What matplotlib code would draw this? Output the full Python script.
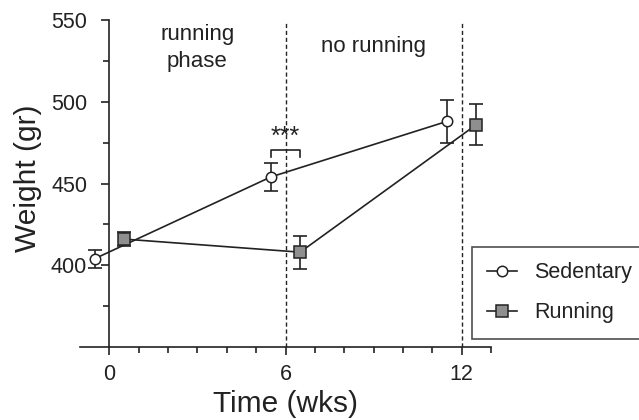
import matplotlib
matplotlib.use('Agg')
import matplotlib.pyplot as plt

plt.rcParams['font.family'] = ['Liberation Sans', 'DejaVu Sans']

# values (x offset +/-0.5 wk so the groups don't overlap)
weeks_sed = [-0.5, 5.5, 11.5]
sed_mean = [404, 454, 488]
sed_err = [5.5, 8.5, 13]

weeks_run = [0.5, 6.5, 12.5]
run_mean = [416, 408, 486]
run_err = [4.5, 10, 12.5]

phase_lines = [6, 12]
x_ticks = [0, 6, 12]
y_ticks = [400, 450, 500, 550]

dark = '#222222'

fig = plt.figure(figsize=(6.39, 4.2), dpi=100)
ax = fig.add_axes([80 / 639, 1 - 347 / 420, (491 - 80) / 639, (347 - 20) / 420])

# dashed phase boundaries
for xv in phase_lines:
    ax.plot([xv, xv], [350, 549], ls=(0, (3, 2)), color=dark, lw=1.0, zorder=1)

# series
ax.errorbar(weeks_sed, sed_mean, yerr=sed_err, fmt='none', ecolor=dark,
            elinewidth=1.2, capsize=5, capthick=1.2, zorder=2)
ax.errorbar(weeks_run, run_mean, yerr=run_err, fmt='none', ecolor=dark,
            elinewidth=1.2, capsize=5, capthick=1.2, zorder=2)
ax.plot(weeks_sed, sed_mean, '-o', color=dark, lw=1.2, ms=7.5,
        mfc='white', mec=dark, mew=1.1, label='Sedentary', zorder=3)
ax.plot(weeks_run, run_mean, '-s', color=dark, lw=1.2, ms=8.5,
        mfc='#8f8f8f', mec=dark, mew=1.1, label='Running', zorder=3)

# significance bracket between the two week-6 points
bx = [weeks_sed[1], weeks_run[1]]
ax.plot([bx[0], bx[0], bx[1], bx[1]], [466.5, 470.5, 470.5, 466.5], color=dark, lw=1.2)
ax.text(sum(bx) / 2, 471, '***', ha='center', va='bottom', fontsize=18, color=dark)

# phase annotations
ax.text(3, 533, 'running\nphase', ha='center', va='center', fontsize=16,
        color=dark, linespacing=1.35)
ax.text(9, 533.5, 'no running', ha='center', va='center', fontsize=16, color=dark)

# axes styling
ax.set_xlim(-1, 13)
ax.set_ylim(350, 550)
ax.spines['top'].set_visible(False)
ax.spines['right'].set_visible(False)
ax.spines['left'].set_position(('data', 0))
for s in ['left', 'bottom']:
    ax.spines[s].set_color(dark)
    ax.spines[s].set_linewidth(1.2)

ax.set_xticks(x_ticks)
ax.set_xticks([v for v in range(1, 14) if v not in x_ticks], minor=True)
ax.set_yticks(y_ticks)
ax.set_yticks([375, 425, 475, 525], minor=True)
ax.tick_params(which='major', direction='out', length=6, width=1.2,
               color=dark, labelcolor=dark, labelsize=15.5)
ax.tick_params(which='minor', direction='out', length=4, width=1.2, color=dark)
ax.tick_params(axis='y', which='major', pad=10)
ax.tick_params(axis='x', which='major', pad=6)

ax.set_xlabel('Time (wks)', fontsize=21.5, color=dark, labelpad=4)
ax.set_ylabel('Weight (gr)', fontsize=21.5, color=dark)
ax.yaxis.set_label_coords(42 / 639, 1 - 178 / 420, transform=fig.transFigure)

leg = ax.legend(loc='upper left', bbox_to_anchor=(472 / 639, 1 - 247 / 420),
                bbox_transform=fig.transFigure, fontsize=15.5, frameon=True,
                fancybox=False, numpoints=1, handlelength=1.4, handletextpad=0.8,
                labelspacing=0.9, borderpad=0.7, borderaxespad=0)
leg.get_frame().set_edgecolor(dark)
leg.get_frame().set_linewidth(1.2)
for t in leg.get_texts():
    t.set_color(dark)

fig.savefig('out.png', dpi=100)
